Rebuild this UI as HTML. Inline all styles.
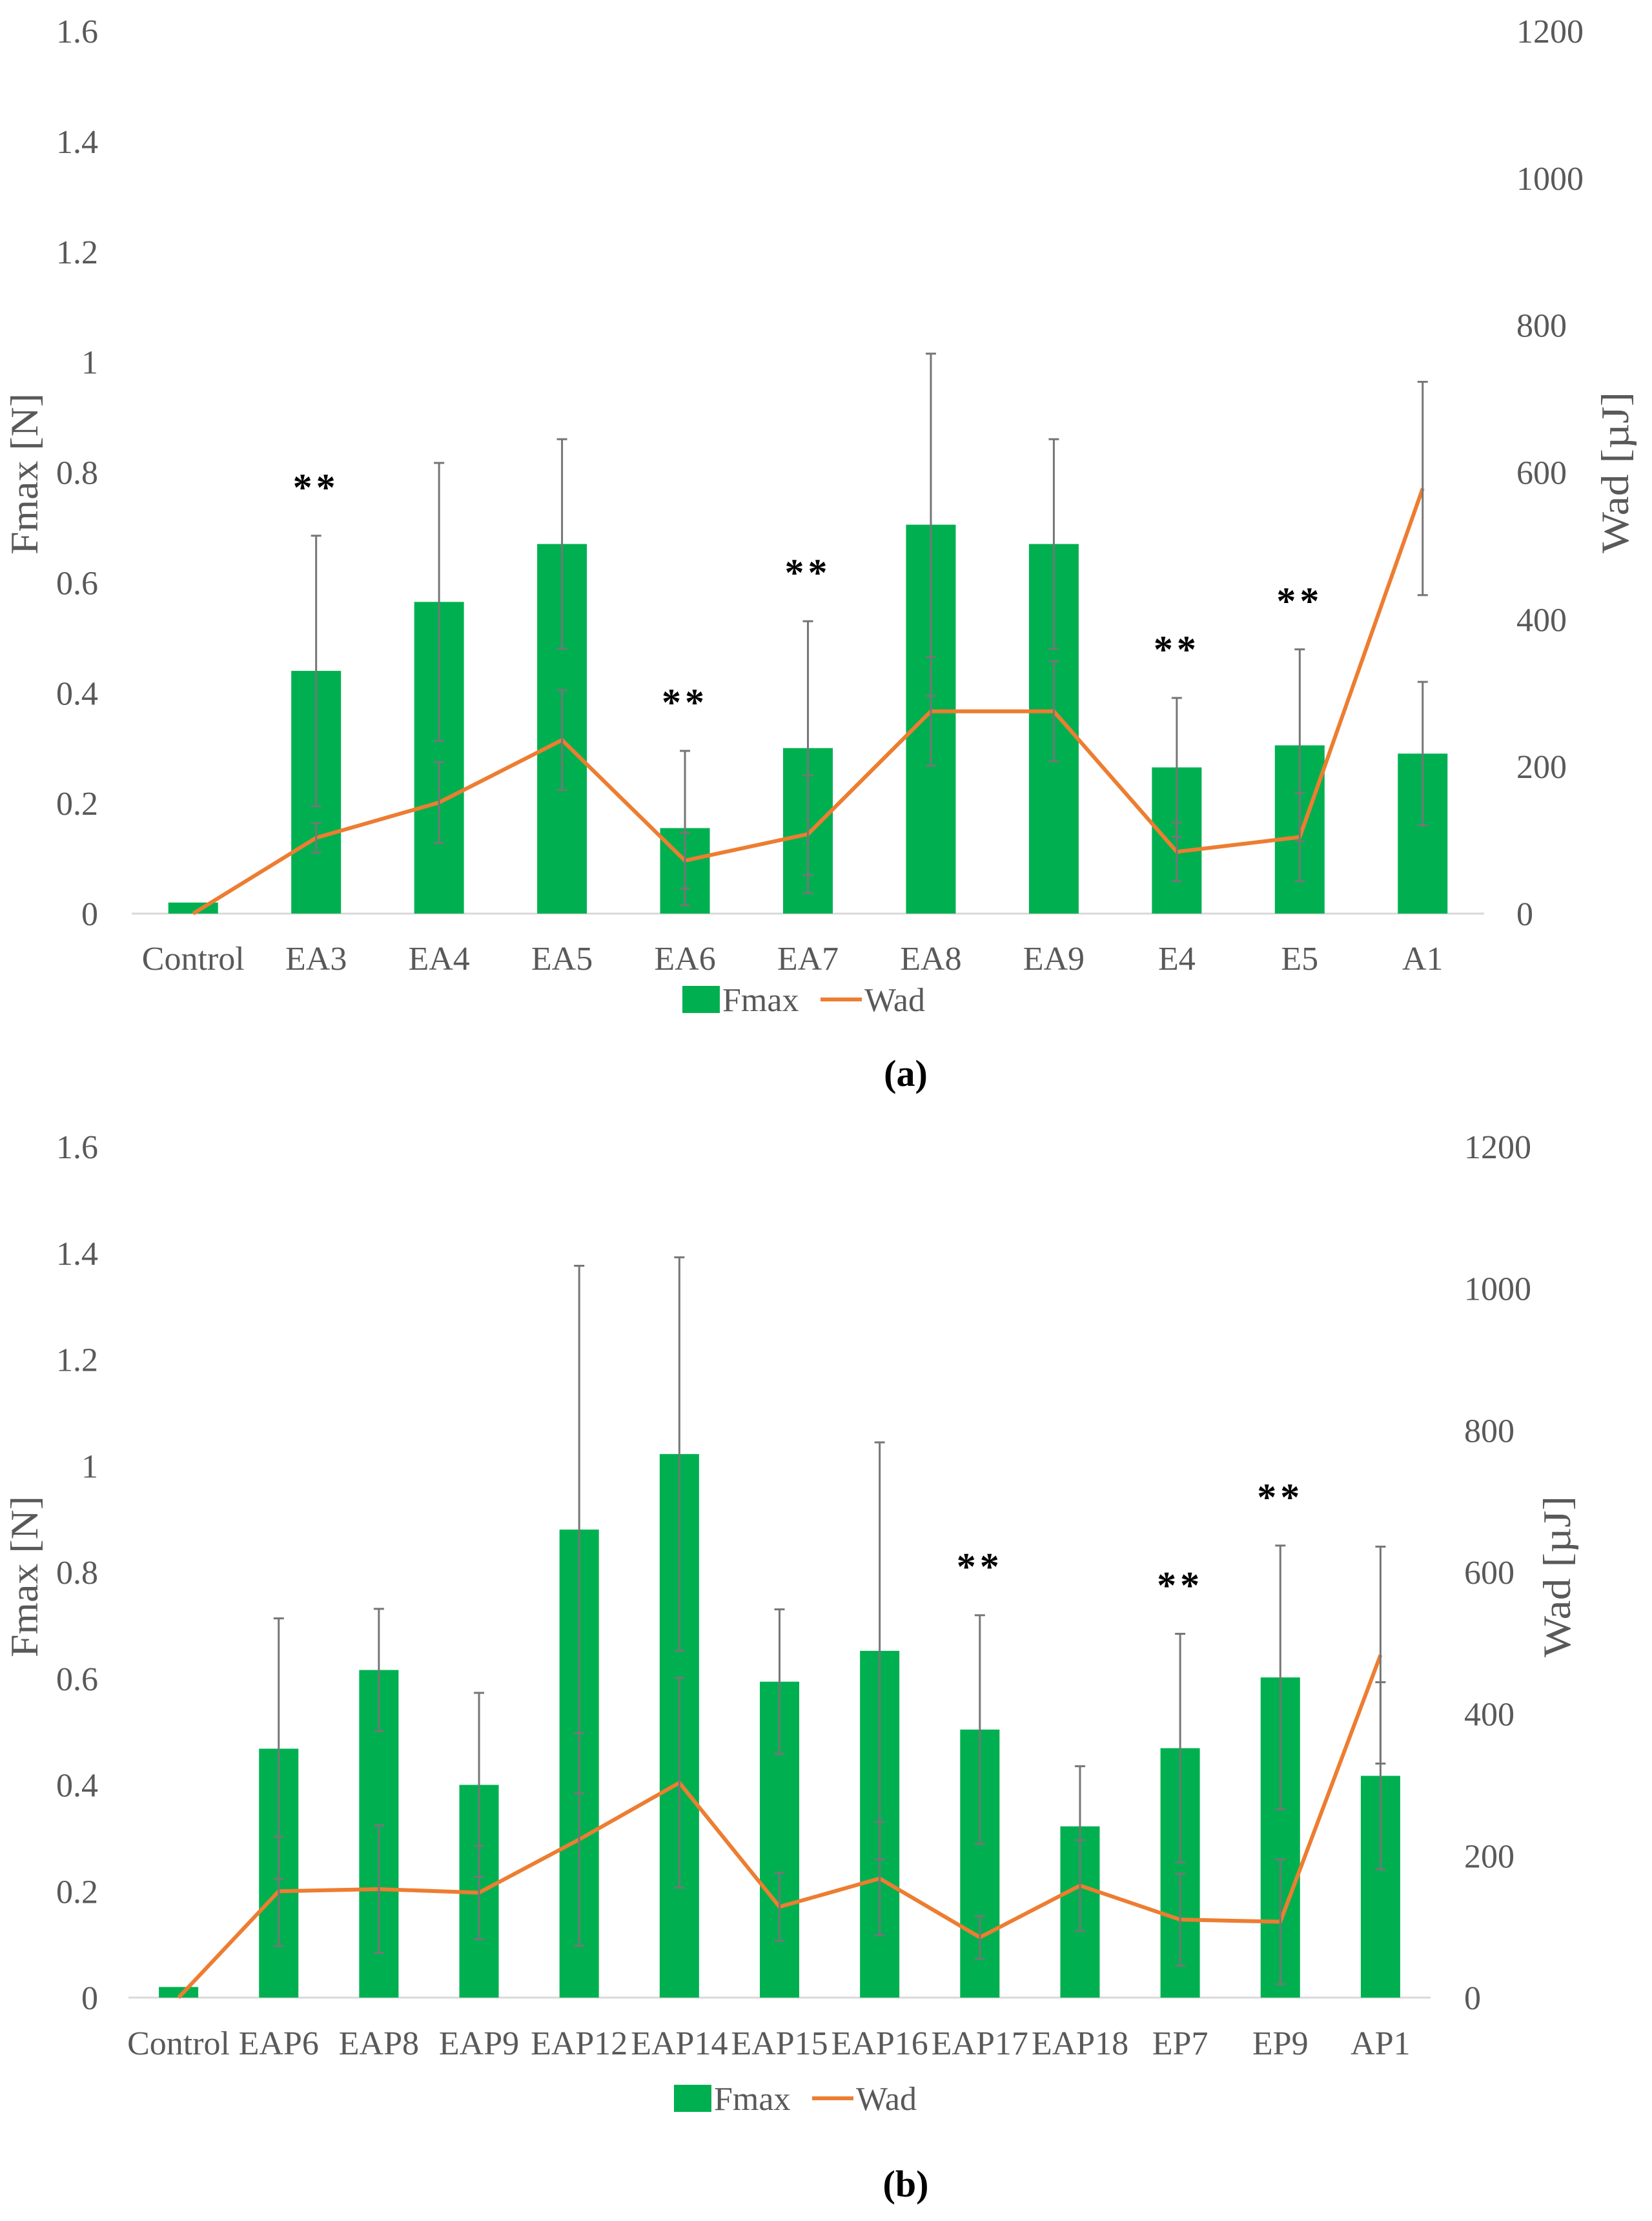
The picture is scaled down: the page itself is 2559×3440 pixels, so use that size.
<!DOCTYPE html>
<html><head><meta charset="utf-8"><style>
html,body{margin:0;padding:0;background:#fff;}
svg{display:block;}
text{font-family:"Liberation Serif",serif;}
</style></head>
<body>
<svg id="fig" xmlns="http://www.w3.org/2000/svg" width="2559" height="3440" viewBox="0 0 2559 3440">
<rect width="2559" height="3440" fill="#fff"/>
<g id="chartA"></g>
<g id="chartB"></g>
<text x="1403" y="1682" font-size="58" font-weight="bold" text-anchor="middle" fill="#000">(a)</text>
<text x="1403" y="3402" font-size="58" font-weight="bold" text-anchor="middle" fill="#000">(b)</text>
</svg>
<script>
// ---- Chart (a) data ----
const catsA = ["Control","EA3","EA4","EA5","EA6","EA7","EA8","EA9","E4","E5","A1"];
const fmaxA = [0.02,0.44,0.565,0.67,0.155,0.30,0.705,0.67,0.265,0.305,0.29];
const fmaxErrA = [0,0.245,0.252,0.19,0.14,0.23,0.31,0.19,0.126,0.174,0.13];
const wadA = [0,103,151,236,72,108,275,275,84,104,578];
const wadErrA = [0,20,55,68,38,80,74,68,40,60,145];
const starsA = [0,1,0,0,1,1,0,0,1,1,0];
// ---- Chart (b) data ----
const catsB = ["Control","EAP6","EAP8","EAP9","EAP12","EAP14","EAP15","EAP16","EAP17","EAP18","EP7","EP9","AP1"];
const fmaxB = [0.02,0.468,0.616,0.40,0.88,1.022,0.594,0.652,0.504,0.322,0.469,0.602,0.417];
const fmaxErrB = [0,0.245,0.115,0.173,0.496,0.37,0.136,0.392,0.215,0.113,0.215,0.248,0.176];
const wadB = [0,150,153,148,223,303,128,168,85,158,110,107,483];
const wadErrB = [0,77,90,66,150,148,48,80,30,64,65,88,153];
const starsB = [0,0,0,0,0,0,0,0,1,0,1,1,0];
const leftTicks = ["0","0.2","0.4","0.6","0.8","1","1.2","1.4","1.6"];
const rightTicks = ["0","200","400","600","800","1000","1200"];

const NS = "http://www.w3.org/2000/svg";
function mk(parent, tag, attrs, txt) {
  const e = document.createElementNS(NS, tag);
  for (const k in attrs) e.setAttribute(k, attrs[k]);
  if (txt !== undefined) e.textContent = txt;
  parent.appendChild(e);
  return e;
}

function draw(g, L, cats, fmax, fErr, wad, wErr, stars) {
  const n = cats.length;
  const step = (L.x1 - L.x0) / n;
  const xc = i => L.x0 + step * (i + 0.5);
  const yF = v => L.y0 - v / 1.6 * (L.y0 - L.yTop);
  const yW = v => L.y0 - v / 1200 * (L.y0 - L.yTop);
  const grey = "#595959";

  leftTicks.forEach((t, i) => {
    const el = mk(g, "text", {x: L.lx, y: yF(i * 0.2) + 18, "font-size": 52, "text-anchor": "end", fill: grey}, t);
    
    
  });
  rightTicks.forEach((t, i) => {
    const el = mk(g, "text", {x: L.rx, y: yW(i * 200) + 18, "font-size": 52, "text-anchor": "start", fill: grey}, t);
    
    
  });
  const ax = mk(g, "line", {x1: L.x0, x2: L.x1, y1: L.y0, y2: L.y0, stroke: "#d9d9d9", "stroke-width": 3});
  
  

  const ft = mk(g, "text", {x: 0, y: 0, "font-size": 60, "text-anchor": "middle", fill: grey, transform: `translate(${L.ftx},${L.fty}) rotate(-90)`, textLength: 250, lengthAdjust: "spacingAndGlyphs"}, "Fmax [N]");
  
  
  const wt = mk(g, "text", {x: 0, y: 0, "font-size": 60, "text-anchor": "middle", fill: grey, transform: `translate(${L.wtx},${L.wty}) rotate(-90)`, textLength: 250, lengthAdjust: "spacingAndGlyphs"}, "Wad [\u00b5J]");
  
  

  for (let i = 0; i < n; i++) {
    const b = mk(g, "rect", {x: xc(i) - L.bw / 2, y: yF(fmax[i]), width: L.bw, height: L.y0 - yF(fmax[i]), fill: "#00b050"});
    
    
    const c = mk(g, "text", {x: xc(i), y: L.ly, "font-size": 52, "text-anchor": "middle", fill: grey}, cats[i]);
    
    
  }
  function errBar(x, ya, yb, name) {
    const eg = mk(g, "g", {stroke: "#767676", "stroke-width": 3});
    
    
    mk(eg, "line", {x1: x, x2: x, y1: ya, y2: yb});
    mk(eg, "line", {x1: x - 8, x2: x + 8, y1: ya, y2: ya});
    mk(eg, "line", {x1: x - 8, x2: x + 8, y1: yb, y2: yb});
  }
  for (let i = 0; i < n; i++) {
    if (fErr[i] > 0) errBar(xc(i), yF(fmax[i] + fErr[i]), yF(fmax[i] - fErr[i]), 'fmax-error-bar');
  }
  let pts = [];
  for (let i = 0; i < n; i++) pts.push(xc(i) + "," + yW(wad[i]));
  const pl = mk(g, "polyline", {points: pts.join(" "), fill: "none", stroke: "#ed7d31", "stroke-width": 6, "stroke-linejoin": "round"});
  
  
  for (let i = 0; i < n; i++) {
    if (wErr[i] > 0) errBar(xc(i), yW(wad[i] + wErr[i]), yW(wad[i] - wErr[i]), 'wad-error-bar');
  }
  for (let i = 0; i < n; i++) {
    if (!stars[i]) continue;
    const top = Math.min(yF(fmax[i] + fErr[i]), yW(wad[i] + wErr[i]));
    const s = mk(g, "text", {x: xc(i), y: top - 55, "font-size": 60, "font-weight": "bold", "text-anchor": "middle", fill: "#000", "font-family": "Liberation Sans, sans-serif", "letter-spacing": "6"}, "**");
    
    
  }
  const lg = mk(g, "g", {});
  
  
  const sq = mk(lg, "rect", {x: L.legX, y: L.legY - 21, width: 58, height: 42, fill: "#00b050"});
  
  
  const t1 = mk(lg, "text", {x: L.legX + 62, y: L.legY + 18, "font-size": 52, fill: grey}, "Fmax");
  
  
  const ln = mk(lg, "line", {x1: L.legX + 214, x2: L.legX + 278, y1: L.legY, y2: L.legY, stroke: "#ed7d31", "stroke-width": 6});
  
  
  const t2 = mk(lg, "text", {x: L.legX + 282, y: L.legY + 18, "font-size": 52, fill: grey}, "Wad");
  
  
}

draw(document.getElementById("chartA"),
  {x0: 204, x1: 2299, y0: 1415, yTop: 48, bw: 77, lx: 152, rx: 2349, ly: 1502,
   ftx: 58, fty: 734, wtx: 2522, wty: 732, legX: 1057, legY: 1548},
  catsA, fmaxA, fmaxErrA, wadA, wadErrA, starsA);
draw(document.getElementById("chartB"),
  {x0: 199, x1: 2216, y0: 3094, yTop: 1776, bw: 61, lx: 152, rx: 2268, ly: 3182,
   ftx: 58, fty: 2442, wtx: 2432, wty: 2442, legX: 1044, legY: 3250},
  catsB, fmaxB, fmaxErrB, wadB, wadErrB, starsB);
</script>
</body></html>
